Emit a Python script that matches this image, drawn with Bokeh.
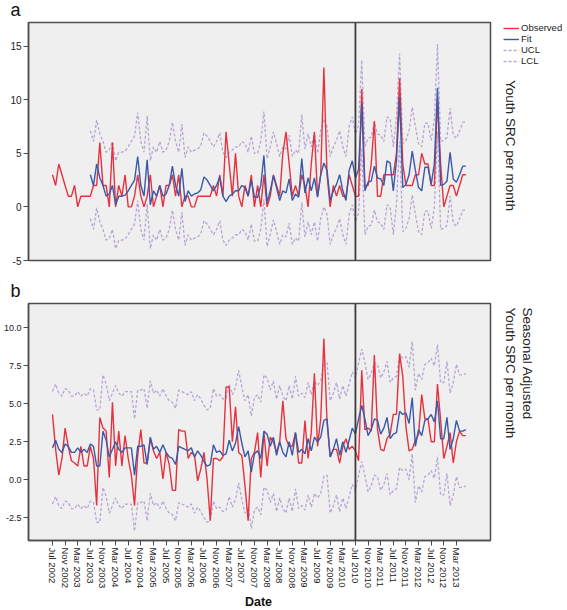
import math
from bokeh.plotting import figure
from bokeh.models import (Range1d, FixedTicker, Span, Label, Legend, LegendItem,
                          NumeralTickFormatter)
from bokeh.layouts import column, row
from bokeh.embed import file_html
from bokeh.resources import INLINE

# ---------------- data (monthly, Jul 2002 .. Jun 2013) ----------------
tick_labels = ["Jul 2002", "Nov 2002", "Mar 2003", "Jul 2003", "Nov 2003", "Mar 2004",
               "Jul 2004", "Nov 2004", "Mar 2005", "Jul 2005", "Nov 2005", "Mar 2006",
               "Jul 2006", "Nov 2006", "Mar 2007", "Jul 2007", "Nov 2007", "Mar 2008",
               "Jul 2008", "Nov 2008", "Mar 2009", "Jul 2009", "Nov 2009", "Mar 2010",
               "Jul 2010", "Nov 2010", "Mar 2011", "Jul 2011", "Nov 2011", "Mar 2012",
               "Jul 2012", "Nov 2012", "Mar 2013"]
intervention_label = "Jul 2010"

# Panel a: Youth SRC per month
obs_a = [3, 2, 4, 3, 2, 1, 1, 2, 0, 1, 1, 1,
         1, 2, 2, 6, 2, 2, 0, 6, 0, 2, 1, 3,
         0, 0, 1, 3, 1, 0, 1, 3, 0, 1, 2, 0,
         2, 2, 3, 1, 3, 0, 1, 1, 0, 0, 1, 1,
         1, 1, 1, 2, 1, 3, 1, 7, 4, 1, 5, 1,
         0, 2, 1, 3, 0, 2, 0, 3, 0, 1, 3, 2,
         1, 5, 7, 4, 1, 2, 1, 3, 2, 0, 4, 7,
         1, 3, 13, 3, 0, 2, 1, 2, 1, 1, 3, 2,
         1, 1, 11, 2, 2, 4, 8, 1, 1, 3, 3, 3,
         3, 5, 12, 4, 2, 2, 2, 3, 3, 5, 4, 4,
         2, 2, 10, 4, 0, 1, 2, 2, 1, 2, 3, 3]
# fit / limits start Jul 2003
fit_a = [3.0, 2.0, 4.0, 2.7, 2.0, 1.0, 1.2, 2.0, 0.2, 1.0, 1.0, 1.1,
         1.5, 2.0, 2.5, 4.7, 2.0, 1.0, 4.4, 0.2, 1.5, 1.0, 2.0, 1.0,
         1.2, 2.0, 3.8, 2.0, 1.0, 3.6, 0.5, 1.5, 1.0, 1.2, 1.3, 1.6,
         2.8, 2.5, 2.0, 1.5, 2.0, 2.8, 1.0, 0.5, 1.0, 1.2, 1.5, 1.5,
         2.0, 1.8, 1.0, 2.5, 0.9, 0.9, 2.0, 4.8, 0.4, 1.5, 2.9, 1.8,
         0.6, 1.5, 1.3, 2.6, 0.6, 1.2, 0.9, 4.5, 1.3, 2.7, 1.5, 2.7,
         0.9, 3.0, 4.1, 3.4, 0.6, 1.5, 2.1, 3.0, 1.5, 0.6, 3.4, 4.3,
         2.7, 3.5, 9.6, 1.5, 2.3, 2.4, 3.8, 2.7, 2.6, 2.0, 4.3, 4.1,
         1.5, 4.3, 10.2, 1.8, 2.1, 3.0, 5.2, 3.4, 1.8, 1.5, 3.7, 3.7,
         2.1, 4.0, 11.1, 2.0, 2.1, 2.4, 5.1, 2.6, 2.3, 3.0, 3.8, 3.8]
ucl_a = [7.1, 6.1, 8.1, 6.8, 6.1, 5.1, 5.3, 6.1, 4.3, 5.1, 5.1, 5.2,
         5.6, 6.1, 6.6, 8.8, 6.1, 5.1, 8.5, 4.3, 5.6, 5.1, 6.1, 5.1,
         5.3, 6.1, 7.9, 6.1, 5.1, 7.7, 4.6, 5.6, 5.1, 5.3, 5.4, 5.7,
         6.9, 6.6, 6.1, 5.6, 6.1, 6.9, 5.1, 4.6, 5.1, 5.3, 5.6, 5.6,
         6.1, 5.9, 5.1, 6.6, 5.0, 5.0, 6.1, 8.9, 4.5, 5.6, 7.0, 5.9,
         4.7, 5.6, 5.4, 6.7, 4.7, 5.3, 5.0, 8.6, 5.4, 6.8, 5.6, 6.8,
         5.0, 7.1, 8.2, 7.5, 4.7, 5.6, 6.2, 7.1, 5.6, 4.7, 7.5, 8.4,
         6.8, 7.6, 13.7, 5.6, 6.4, 6.5, 7.9, 6.8, 6.7, 6.1, 8.4, 8.2,
         5.6, 8.4, 14.3, 5.9, 6.2, 7.1, 9.3, 7.5, 5.9, 5.6, 7.8, 7.8,
         6.2, 8.1, 15.2, 6.1, 6.2, 6.5, 9.2, 6.7, 6.4, 7.1, 7.9, 7.9]
lcl_a = [-1.1, -2.1, -0.1, -1.4, -2.1, -3.1, -2.9, -2.1, -3.9, -3.1, -3.1, -3.0,
         -2.6, -2.1, -1.6, 0.6, -2.1, -3.1, 0.3, -3.9, -2.6, -3.1, -2.1, -3.1,
         -2.9, -2.1, -0.3, -2.1, -3.1, -0.5, -3.6, -2.6, -3.1, -2.9, -2.8, -2.5,
         -1.3, -1.6, -2.1, -2.6, -2.1, -1.3, -3.1, -3.6, -3.1, -2.9, -2.6, -2.6,
         -2.1, -2.3, -3.1, -1.6, -3.2, -3.2, -2.1, 0.7, -3.7, -2.6, -1.2, -2.3,
         -3.5, -2.6, -2.8, -1.5, -3.5, -2.9, -3.2, 0.4, -2.8, -1.4, -2.6, -1.4,
         -3.2, -1.1, 0.0, -0.7, -3.5, -2.6, -2.0, -1.1, -2.6, -3.5, -0.7, 0.2,
         -1.4, -0.6, 5.5, -2.6, -1.8, -1.7, -0.3, -1.4, -1.5, -2.1, 0.2, 0.0,
         -2.6, 0.2, 6.1, -2.3, -2.0, -1.1, 1.1, -0.7, -2.3, -2.6, -0.4, -0.4,
         -2.0, -0.1, 7.0, -2.1, -2.0, -1.7, 1.0, -1.5, -1.8, -1.1, -0.3, -0.3]

# Panel b: Seasonal adjusted youth SRC per month
obs_b = [4.3, 2.0, 0.3, 1.4, 3.4, 2.2, 1.25, 1.1, 0.9, 2.2, 0.9, 0.9,
         2.2, 1.4, -1.7, 4.1, 3.4, 3.2, 0.15, 5.1, 0.9, 3.2, 0.9, 2.9,
         1.4, 0.3, -1.7, 1.6, 3.3, 1.1, 1.1, 2.7, 1.9, 1.4, 1.8, 0.05,
         1.8, 1.0, -0.7, -0.7, 3.3, 3.2, 3.2, 1.4, 1.8, 1.6, -0.07, 0.7,
         1.8, 0.0, -2.7, 1.4, 1.4, 1.25, 1.5, 6.1, 6.1, 2.5, 4.8, 1.8,
         1.6, -0.4, -2.7, 1.4, 1.8, 3.1, 0.15, 3.1, 0.9, 2.8, 2.5, 1.8,
         2.5, 5.2, 2.7, 2.2, 2.2, 3.1, 1.1, 1.1, 3.9, 1.4, 3.1, 7.0,
         2.2, 4.0, 9.3, 3.8, 1.5, 2.0, 2.0, 1.1, 2.2, 2.7, 2.0, 2.2,
         1.9, 1.25, 7.2, 3.3, 3.4, 3.2, 8.2, 3.3, 2.0, 1.9, 2.7, 3.0,
         4.3, 4.3, 8.3, 6.8, 3.5, 1.9, 2.0, 2.6, 3.0, 5.6, 4.0, 4.0,
         2.5, 2.5, 6.3, 3.9, 1.4, 2.2, 3.1, 1.1, 2.5, 3.2, 2.9, 2.9]
fit_b = [2.1, 2.6, 2.0, 1.8, 2.35, 2.2, 1.8, 1.8, 2.1, 1.8, 2.0, 1.8,
         2.35, 2.2, 0.9, 0.9, 3.2, 2.6, 1.5, 2.0, 2.5, 2.0, 1.8, 2.1,
         2.1, 2.1, 0.3, 2.2, 2.2, 2.3, 1.0, 2.8, 2.0, 2.2, 1.8, 2.3,
         1.8, 1.5, 1.4, 1.0, 2.2, 2.1, 2.0, 1.9, 2.1, 1.5, 1.9, 1.6,
         1.2, 0.9, 1.0, 2.3, 1.8, 1.9, 1.6, 1.7, 2.6, 1.9, 2.4, 3.5,
         2.4, 1.5, 1.9, 0.5, 1.7, 1.9, 1.4, 3.2, 3.0, 2.2, 2.8, 1.6,
         2.5, 1.8, 1.5, 2.5, 1.6, 3.1, 1.8, 2.0, 1.7, 2.7, 1.9, 2.8,
         2.5, 2.8, 3.9, 4.0, 1.5, 2.0, 2.7, 1.6, 2.5, 1.8, 2.6, 3.4,
         3.0, 4.0, 4.9, 4.0, 2.9, 3.3, 4.0, 3.9, 3.0, 3.4, 4.1, 2.7,
         3.0, 3.1, 4.5, 4.3, 4.4, 3.7, 5.4, 2.2, 3.3, 2.9, 3.9, 4.0,
         4.3, 3.8, 5.2, 2.7, 2.7, 4.1, 2.0, 2.7, 3.9, 3.2, 3.2, 3.3]
ucl_b = [5.8, 6.3, 5.7, 5.5, 6.0, 5.9, 5.5, 5.5, 5.8, 5.5, 5.7, 5.5,
         6.0, 5.9, 4.6, 4.6, 6.9, 6.3, 5.2, 5.7, 6.2, 5.7, 5.5, 5.8,
         5.8, 5.8, 4.0, 5.9, 5.9, 6.0, 4.7, 6.5, 5.7, 5.9, 5.5, 6.0,
         5.5, 5.2, 5.1, 4.7, 5.9, 5.8, 5.7, 5.6, 5.8, 5.2, 5.6, 5.3,
         4.9, 4.6, 4.7, 6.0, 5.5, 5.6, 5.3, 5.4, 6.3, 5.6, 6.1, 7.2,
         6.1, 5.2, 5.6, 4.2, 5.4, 5.6, 5.1, 6.9, 6.7, 5.9, 6.5, 5.3,
         6.2, 5.5, 5.2, 6.2, 5.3, 6.8, 5.5, 5.7, 5.4, 6.4, 5.6, 6.5,
         6.2, 6.5, 7.6, 7.7, 5.2, 5.7, 6.4, 5.3, 6.2, 5.5, 6.3, 7.1,
         6.7, 7.7, 8.6, 7.7, 6.6, 7.0, 7.7, 7.6, 6.7, 7.1, 7.8, 6.4,
         6.7, 6.8, 8.2, 8.0, 8.1, 7.4, 9.1, 5.9, 7.0, 6.6, 7.6, 7.7,
         8.0, 7.5, 8.9, 6.4, 6.4, 7.8, 5.7, 6.4, 7.6, 6.9, 6.9, 7.0]
lcl_b = [-1.6, -1.1, -1.7, -1.9, -1.4, -1.5, -1.9, -1.9, -1.6, -1.9, -1.7, -1.9,
         -1.4, -1.5, -2.8, -2.8, -0.5, -1.1, -2.2, -1.7, -1.2, -1.7, -1.9, -1.6,
         -1.6, -1.6, -3.4, -1.5, -1.5, -1.4, -2.7, -0.9, -1.7, -1.5, -1.9, -1.4,
         -1.9, -2.2, -2.3, -2.7, -1.5, -1.6, -1.7, -1.8, -1.6, -2.2, -1.8, -2.1,
         -2.5, -2.8, -2.7, -1.4, -1.9, -1.8, -2.1, -2.0, -1.1, -1.8, -1.3, -0.2,
         -1.3, -2.2, -1.8, -3.2, -2.0, -1.8, -2.3, -0.5, -0.7, -1.5, -0.9, -2.1,
         -1.2, -1.9, -2.2, -1.2, -2.1, -0.6, -1.9, -1.7, -2.0, -1.0, -1.8, -0.9,
         -1.2, -0.9, 0.2, 0.3, -2.2, -1.7, -1.0, -2.1, -1.2, -1.9, -1.1, -0.3,
         -0.7, 0.3, 1.2, 0.3, -0.8, -0.4, 0.3, 0.2, -0.7, -0.3, 0.4, -1.0,
         -0.7, -0.6, 0.8, 0.6, 0.7, 0.0, 1.7, -1.5, -0.4, -0.8, 0.2, 0.3,
         0.6, 0.1, 1.5, -1.0, -1.0, 0.4, -1.7, -1.0, 0.2, -0.5, -0.5, -0.4]

yticks_a = [-5, 0, 5, 10, 15]
yticks_b = [-2.5, 0.0, 2.5, 5.0, 7.5, 10.0]

# ---------------- derived positions ----------------
n = len(obs_a)
x_all = list(range(n))
x_fit_a = list(range(n - len(fit_a), n))
tick_pos = [4 * i for i in range(len(tick_labels))]
intervention = tick_pos[tick_labels.index(intervention_label)]

RED = "#e5323e"
BLUE = "#3b59a8"
LAV = "#b9a4d4"
FRAME = "#4d4d4d"
TXT = "#222222"
FONT = "Liberation Sans"
XR = (-7.6, 138.8)

W = 566          # total content width
WP = 492         # width of each chart figure
WS = W - WP      # width of the right-hand text column
LB = 28
SIDE_LB = 11

H_STRIP_A = 21
HA = 254
H_STRIP_B = 27
HB = 291
H_DATE = 16


def blank(width, height, left=0):
    f = figure(width=width, height=height, output_backend="svg", toolbar_location=None,
               x_range=Range1d(0, 1), y_range=Range1d(0, 1),
               x_axis_location=None, y_axis_location=None,
               min_border_left=left, min_border_right=0, min_border_top=0,
               min_border_bottom=0)
    f.outline_line_color = None
    f.xgrid.grid_line_color = None
    f.ygrid.grid_line_color = None
    f.background_fill_color = "white"
    f.border_fill_color = "white"
    return f


def style(p, yticks, fmt, yfont):
    p.background_fill_color = "#efefef"
    p.border_fill_color = "white"
    p.outline_line_color = FRAME
    p.outline_line_width = 1.5
    p.xgrid.grid_line_color = None
    p.ygrid.grid_line_color = None
    ax = p.yaxis[0]
    ax.ticker = FixedTicker(ticks=yticks)
    ax.formatter = NumeralTickFormatter(format=fmt)
    ax.axis_line_color = FRAME
    ax.axis_line_width = 1.5
    ax.major_tick_line_color = FRAME
    ax.major_tick_out = 5
    ax.major_tick_in = 0
    ax.minor_tick_line_color = None
    ax.major_label_standoff = 2
    ax.major_label_text_font = FONT
    ax.major_label_text_font_size = yfont
    ax.major_label_text_color = TXT


def draw(p, x_fit, obs, fit, ucl, lcl):
    p.line(x_fit, ucl, line_color=LAV, line_width=1.3, line_dash="3 2")
    p.line(x_fit, lcl, line_color=LAV, line_width=1.3, line_dash="3 2")
    p.line(x_all, obs, line_color=RED, line_width=1.4)
    p.line(x_fit, fit, line_color=BLUE, line_width=1.4)
    p.add_layout(Span(location=intervention, dimension="height",
                      line_color="#3c3c3c", line_width=1.8))


def vlabel(f, text, x, y, align):
    f.add_layout(Label(x=x, y=y, x_units="screen", y_units="screen", text=text,
                       angle=-math.pi / 2, text_align=align, text_baseline="middle",
                       text_font=FONT, text_font_size="13.5px", text_color=TXT))


def hlabel(f, text, x, y, size, align="left", bold=False):
    f.add_layout(Label(x=x, y=y, x_units="screen", y_units="screen", text=text,
                       text_align=align, text_baseline="middle",
                       text_font=FONT, text_font_size=size,
                       text_font_style="bold" if bold else "normal",
                       text_color="#111111"))


# ---------------- strip with "a" ----------------
strip_a = blank(W, H_STRIP_A)
hlabel(strip_a, "a", 10, 12, "18px")

# ---------------- panel a ----------------
pa = figure(width=WP, height=HA, output_backend="svg", toolbar_location=None,
            x_range=Range1d(*XR), y_range=Range1d(-5, 17.2),
            min_border_left=LB, min_border_right=2, min_border_top=1,
            min_border_bottom=15)
style(pa, yticks_a, "0", "10px")
pa.xaxis.visible = False
draw(pa, x_fit_a, obs_a, fit_a, ucl_a, lcl_a)

# legend swatches (kept outside the visible range of the text column)
side_a = blank(WS, HA, left=SIDE_LB)
off = [-3, -2]
k_o = side_a.line(off, off, line_color=RED, line_width=1.4)
k_f = side_a.line(off, off, line_color=BLUE, line_width=1.4)
k_u = side_a.line(off, off, line_color=LAV, line_width=1.3, line_dash="3 2")
k_l = side_a.line(off, off, line_color=LAV, line_width=1.3, line_dash="3 2")
legend = Legend(items=[LegendItem(label="Observed", renderers=[k_o]),
                       LegendItem(label="Fit", renderers=[k_f]),
                       LegendItem(label="UCL", renderers=[k_u]),
                       LegendItem(label="LCL", renderers=[k_l])],
                location="top_left", orientation="vertical",
                glyph_width=16, glyph_height=10, label_height=10,
                label_standoff=2, spacing=0, padding=0, margin=0,
                label_text_font=FONT, label_text_font_size="9.5px",
                label_text_color=TXT,
                border_line_alpha=0, background_fill_alpha=0)
side_a.add_layout(legend)
vlabel(side_a, "Youth SRC per month", 7, 115, "center")

# ---------------- strip with "b" ----------------
strip_b = blank(W, H_STRIP_B)
hlabel(strip_b, "b", 10, 12, "18px")

# ---------------- panel b ----------------
pb = figure(width=WP, height=HB, output_backend="svg", toolbar_location=None,
            x_range=Range1d(*XR), y_range=Range1d(-4.0, 11.6),
            min_border_left=LB, min_border_right=2, min_border_top=1,
            min_border_bottom=53)
style(pb, yticks_b, "0.0", "9px")
draw(pb, x_all, obs_b, fit_b, ucl_b, lcl_b)

xa = pb.xaxis[0]
xa.ticker = FixedTicker(ticks=tick_pos)
xa.major_label_overrides = {t: lab for t, lab in zip(tick_pos, tick_labels)}
xa.major_label_orientation = -math.pi / 2
xa.axis_line_color = FRAME
xa.axis_line_width = 1.5
xa.major_tick_line_color = FRAME
xa.major_tick_out = 5
xa.major_tick_in = 0
xa.minor_tick_line_color = None
xa.major_label_standoff = 2
xa.major_label_text_font = FONT
xa.major_label_text_font_size = "9.5px"
xa.major_label_text_color = TXT

side_b = blank(WS, HB, left=SIDE_LB)
vlabel(side_b, "Seasonal Adjusted", 24, HB - 58, "left")
vlabel(side_b, "Youth SRC per month", 7, HB - 58, "left")

# ---------------- "Date" strip ----------------
strip_d = blank(W, H_DATE)
hlabel(strip_d, "Date", 258, 8, "12.5px", align="center", bold=True)

layout = column(strip_a, row(pa, side_a, spacing=0), strip_b,
                row(pb, side_b, spacing=0), strip_d, spacing=0)
open("out.html", "w").write(file_html(layout, INLINE))
